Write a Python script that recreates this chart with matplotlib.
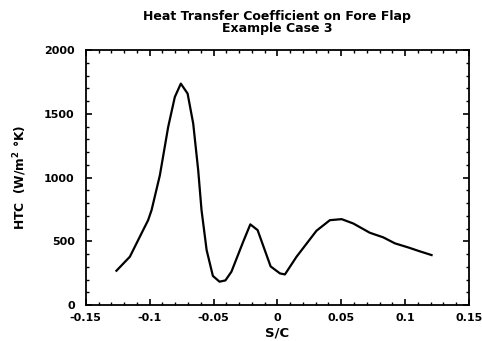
import matplotlib.pyplot as plt
from matplotlib.ticker import MultipleLocator

# S/C positions and heat transfer coefficient
s_c = [-0.126, -0.1155, -0.1064, -0.1012, -0.0985, -0.092, -0.0855, -0.0803,
       -0.0756, -0.0703, -0.0659, -0.062, -0.0594, -0.0554, -0.0505, -0.0453,
       -0.0407, -0.036, -0.0268, -0.0212, -0.0155, -0.0053, 0.002, 0.0059,
       0.015, 0.0306, 0.0411, 0.0503, 0.0594, 0.0724, 0.0829, 0.092, 0.1024,
       0.1116, 0.1207]
htc = [269, 379, 562, 666, 745, 1019, 1398, 1633,
       1738, 1660, 1424, 1058, 745, 431, 228, 183,
       193, 261, 496, 633, 588, 303, 248, 240,
       379, 583, 666, 674, 640, 567, 531, 484, 452,
       421, 392]

plt.rcParams['font.family'] = ['DejaVu Sans']
plt.rcParams['font.weight'] = 'bold'

fig = plt.figure(figsize=(4.82, 3.41), dpi=100)
ax = fig.add_axes([0.178, 0.1056, 0.795, 0.747])
ax.plot(s_c, htc, color='black', lw=1.6)

ax.set_xlim(-0.15, 0.15)
ax.set_ylim(0, 2000)
ax.xaxis.set_major_locator(MultipleLocator(0.05))
ax.xaxis.set_minor_locator(MultipleLocator(0.01))
ax.yaxis.set_major_locator(MultipleLocator(500))
ax.yaxis.set_minor_locator(MultipleLocator(100))
ax.set_xticks([-0.15, -0.1, -0.05, 0, 0.05, 0.1, 0.15])
ax.set_xticklabels(['-0.15', '-0.1', '-0.05', '0', '0.05', '0.1', '0.15'])
ax.tick_params(which='both', direction='in', top=True, right=True, labelsize=8)
ax.tick_params(which='major', length=4, width=1.2)
ax.tick_params(which='minor', length=2, width=1)
ax.tick_params(axis='y', which='major', pad=8)
ax.tick_params(axis='x', which='major', pad=6)
for sp in ax.spines.values():
    sp.set_linewidth(1.3)
for lab in ax.get_xticklabels() + ax.get_yticklabels():
    lab.set_fontweight('bold')

ax.set_xlabel('S/C', fontsize=9.5, fontweight='bold', labelpad=2)
ax.set_ylabel('HTC  (W/m$^\\mathbf{2}$ °K)', fontsize=8.8, fontweight='bold', labelpad=11)
ax.set_title('Heat Transfer Coefficient on Fore Flap\nExample Case 3',
             fontsize=9, fontweight='bold', linespacing=0.9, pad=13)

fig.savefig('out.png', dpi=100)
